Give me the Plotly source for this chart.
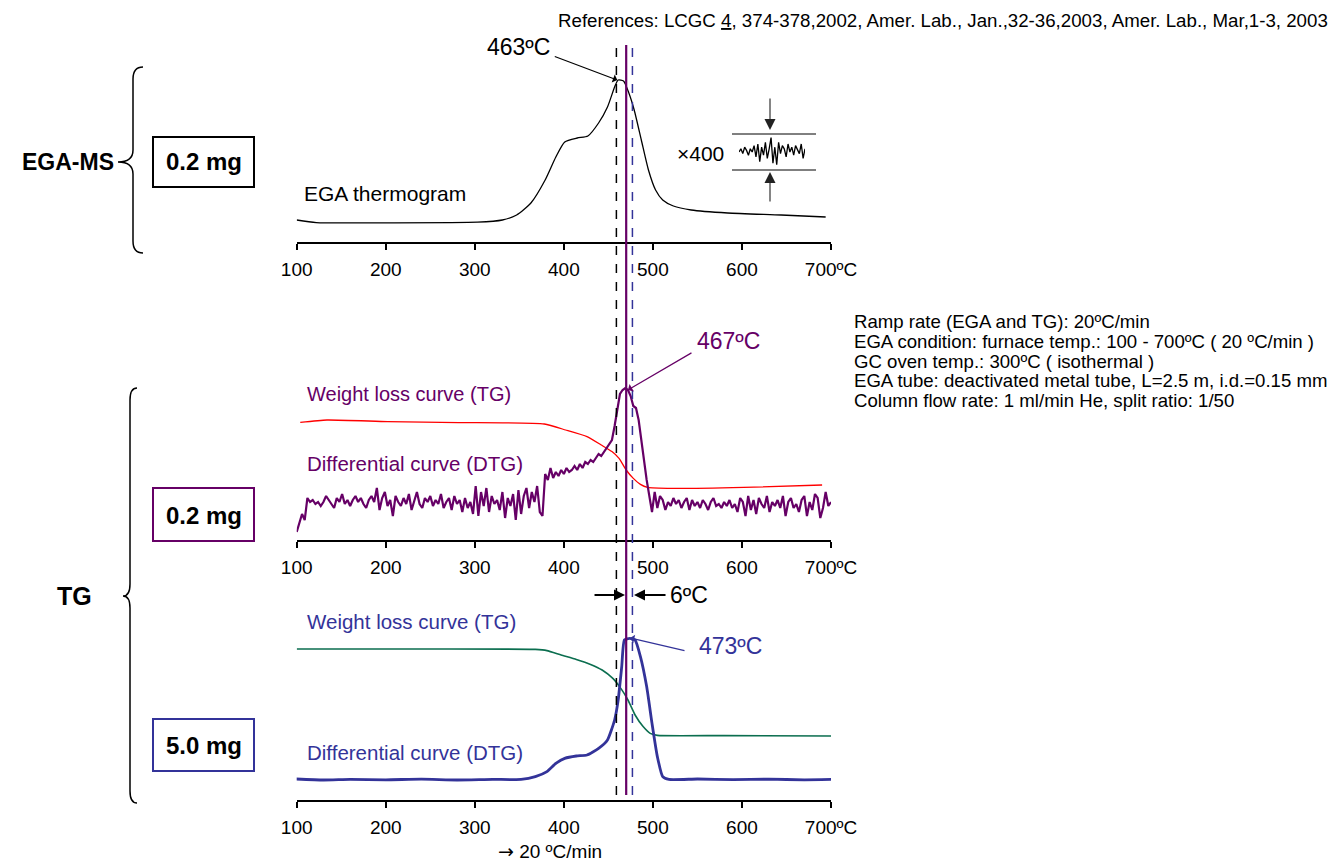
import numpy as np
import plotly.graph_objects as go

W, H = 1333, 862
FONT = "Arial, Liberation Sans, sans-serif"
PURPLE = "#660066"
BLUE = "#333399"
GREEN = "#0B6E4F"
RED = "#FF0000"

# ---------------- data ----------------
tick_vals = [100, 200, 300, 400, 500, 600, 700]
tick_text = ["100", "200", "300", "400", "500", "600", "700ºC"]

# EGA thermogram (arbitrary intensity units)
ega_t = [100, 122, 200, 303, 331, 347, 363, 379, 391, 401, 415, 427, 439, 449, 457, 461,
         467, 473, 479, 487, 495, 503, 511, 523, 543, 584, 644, 694]
ega_s = [11, 9.7, 9.6, 9.9, 11, 13.5, 19.5, 31, 42.5, 50, 52, 53, 59.5, 67.5, 77.5, 81,
         80.5, 74.5, 66, 51, 36, 26, 21, 18, 16, 14.5, 13.5, 12.5]

# x400 noise inset
inset_s = [0, 2, -1, 3, 1, -2, 2, 0, 4, -3, 5, -6, 3, -2, 6, -4, 2, 9, -7, 3, -8, 6, -1, 4,
           2, -3, 5, 0, 3, -2, 4, 1, -1, 5, -4, 2]

# TG 0.2 mg: weight loss curve
tg2_t = [104, 134, 202, 282, 378, 402, 426, 442, 454, 462, 470, 478, 486, 494, 522, 602, 690]
tg2_s = [58.8, 60, 59.2, 58.7, 58, 55, 51.7, 47.5, 44.2, 40.8, 35, 30.8, 27.8, 26.3, 25.8, 26.3, 27.5]

# TG 0.2 mg: DTG, sampled every 3 ºC from 100 to 700
dtg2_s = [
    4, 8, 13, 10, 21, 19, 20, 18, 19, 17,
    19, 22, 20, 18, 16, 21, 19, 23, 18, 20,
    17, 20, 22, 19, 21, 18, 16, 20, 22, 19,
    26, 15, 21, 24, 17, 20, 12, 22, 19, 17,
    21, 18, 23, 15, 20, 24, 18, 16, 21, 19,
    22, 17, 20, 18, 23, 16, 19, 21, 15, 22,
    18, 20, 14, 21, 16, 19, 13, 27, 12, 24,
    17, 26, 14, 22, 18, 20, 15, 24, 11, 21,
    17, 23, 10, 25, 13, 22, 26, 16, 24, 19,
    27, 14, 12, 33, 30, 36, 31, 34, 32, 35,
    33, 36, 34, 35, 37, 35, 38, 36, 39, 38,
    40, 39, 41, 43, 42, 44, 46, 48, 50, 57,
    66, 73, 75, 76, 75, 72, 67, 66, 60, 50,
    38, 30, 22, 14, 24, 16, 22, 20, 15, 19,
    17, 21, 18, 20, 16, 19, 21, 15, 20, 17,
    19, 16, 20, 18, 15, 19, 21, 17, 18, 16,
    19, 17, 20, 16, 18, 14, 21, 19, 12, 22,
    15, 20, 13, 21, 18, 16, 22, 14, 19, 17,
    20, 16, 22, 12, 19, 21, 16, 18, 14, 20,
    22, 12, 19, 15, 23, 21, 11, 16, 24, 17,
    19,
]
dtg2_t = list(range(100, 701, 3))

# TG 5.0 mg: weight loss curve
tg3_t = [100, 250, 368, 381, 397, 414, 430, 443, 455, 464, 472, 480, 489, 497, 505, 580, 700]
tg3_s = [75.5, 75.5, 75.3, 74.7, 72.5, 70.3, 67.8, 65, 60.8, 55.8, 50, 42.5, 36.7, 33.3, 32.3, 32.2, 32]

# TG 5.0 mg: DTG
dtg3_t = [99, 130, 160, 200, 240, 280, 320, 352, 368, 381, 391, 401, 414, 426, 439, 449, 457,
          461, 465, 468, 474, 480, 486, 493, 499, 505, 511, 518, 550, 590, 630, 670, 704]
dtg3_s = [10.5, 10, 10.3, 10.1, 10.4, 10, 10.3, 10.3, 11.7, 14.2, 18.3, 20.8, 22, 22.5, 25.8,
          30, 40, 50, 66.7, 80, 80.8, 80, 71.7, 56.7, 38.3, 21.7, 11.7, 10.3, 10.5, 10.2,
          10.4, 10.1, 10.3]

# marker temperatures (vertical lines)
vline_t = [459, 470, 477]

# ---------------- helpers ----------------
def px(x):
    return x / W

def py(y):
    return 1 - y / H

XDOM = [px(296.7), px(831)]

fig = go.Figure()

fig.add_trace(go.Scatter(x=ega_t, y=ega_s, mode="lines", xaxis="x", yaxis="y",
                         line=dict(color="black", width=1.3, shape="spline", smoothing=0.6)))
fig.add_trace(go.Scatter(x=tg2_t, y=tg2_s, mode="lines", xaxis="x2", yaxis="y2",
                         line=dict(color=RED, width=1.3, shape="spline", smoothing=0.5)))
fig.add_trace(go.Scatter(x=dtg2_t, y=dtg2_s, mode="lines", xaxis="x2", yaxis="y2",
                         line=dict(color=PURPLE, width=2.2)))
fig.add_trace(go.Scatter(x=tg3_t, y=tg3_s, mode="lines", xaxis="x3", yaxis="y3",
                         line=dict(color=GREEN, width=1.6, shape="spline", smoothing=0.5)))
fig.add_trace(go.Scatter(x=dtg3_t, y=dtg3_s, mode="lines", xaxis="x3", yaxis="y3",
                         line=dict(color=BLUE, width=2.8, shape="spline", smoothing=0.5)))
fig.add_trace(go.Scatter(x=list(range(len(inset_s))), y=inset_s, mode="lines", xaxis="x4", yaxis="y4",
                         line=dict(color="black", width=1.3)))

xcommon = dict(range=[100, 700], tickvals=tick_vals, ticktext=tick_text, showline=True,
               linecolor="black", linewidth=2, ticks="outside", ticklen=6, tickwidth=2,
               tickcolor="black", showgrid=False, zeroline=False, domain=XDOM, automargin=False,
               tickfont=dict(family=FONT, size=19, color="black"), ticklabelstandoff=3)

def ydom(axis_px):
    return [py(axis_px), py(axis_px - 200)]

fig.update_layout(
    width=W, height=H, autosize=False,
    margin=dict(l=0, r=0, t=0, b=0, pad=0, autoexpand=False),
    paper_bgcolor="white", plot_bgcolor="rgba(0,0,0,0)",
    showlegend=False,
    xaxis=dict(anchor="y", **xcommon),
    xaxis2=dict(anchor="y2", **xcommon),
    xaxis3=dict(anchor="y3", **xcommon),
    yaxis=dict(domain=ydom(242), range=[0, 100], visible=False),
    yaxis2=dict(domain=ydom(540), range=[0, 100], visible=False),
    yaxis3=dict(domain=ydom(800), range=[0, 100], visible=False),
    xaxis4=dict(domain=[px(739), px(805)], range=[0, len(inset_s) - 1], visible=False, anchor="y4"),
    yaxis4=dict(domain=[py(168), py(136)], range=[-10, 10], visible=False, anchor="x4"),
)

shapes = []
# vertical marker lines
vstyles = [dict(color="black", width=1.5, dash="dash"),
           dict(color=PURPLE, width=2.2, dash="solid"),
           dict(color=BLUE, width=1.5, dash="dash")]
for t, st in zip(vline_t, vstyles):
    shapes.append(dict(type="line", xref="x", yref="paper", x0=t, x1=t,
                       y0=py(795), y1=py(45), line=st, layer="above"))

# inset horizontal lines
for yy in (134, 170):
    shapes.append(dict(type="line", xref="paper", yref="paper", x0=px(732), x1=px(816),
                       y0=py(yy), y1=py(yy), line=dict(color="black", width=1)))

# sample boxes
boxes = [(137, 187, "black"), (488, 541, PURPLE), (719, 771, BLUE)]
for y0, y1, c in boxes:
    shapes.append(dict(type="rect", xref="paper", yref="paper", x0=px(153), x1=px(254),
                       y0=py(y1), y1=py(y0), line=dict(color=c, width=2), fillcolor="white"))

# braces
def brace(xe, xv, xt, yt, ym, yb, r=12):
    pts = [
        f"M{px(xe)},{py(yt)}",
        f"Q{px(xv)},{py(yt)} {px(xv)},{py(yt + r)}",
        f"L{px(xv)},{py(ym - r)}",
        f"Q{px(xv)},{py(ym)} {px(xt)},{py(ym)}",
        f"Q{px(xv)},{py(ym)} {px(xv)},{py(ym + r)}",
        f"L{px(xv)},{py(yb - r)}",
        f"Q{px(xv)},{py(yb)} {px(xe)},{py(yb)}",
    ]
    return " ".join(pts)

shapes.append(dict(type="path", xref="paper", yref="paper", path=brace(143, 133, 118, 67, 162, 253),
                   line=dict(color="black", width=1.5)))
shapes.append(dict(type="path", xref="paper", yref="paper", path=brace(137, 130, 123, 388, 596, 803),
                   line=dict(color="black", width=1.5)))
fig.update_layout(shapes=shapes)

ann = []

def text(x, y, s, size=20, color="black", bold=False, xanchor="center"):
    if bold:
        s = f"<b>{s}</b>"
    ann.append(dict(x=px(x), y=py(y), xref="paper", yref="paper", text=s, showarrow=False,
                    xanchor=xanchor, yanchor="middle", font=dict(family=FONT, size=size, color=color)))

text(1330, 20, "References: LCGC <u>4</u>, 374-378,2002, Amer. Lab., Jan.,32-36,2003, Amer. Lab., Mar,1-3, 2003",
     size=18.7, xanchor="right")
info = ["Ramp rate (EGA and TG): 20ºC/min",
        "EGA condition: furnace temp.: 100 - 700ºC ( 20 ºC/min )",
        "GC oven temp.: 300ºC ( isothermal )",
        "EGA tube: deactivated metal tube, L=2.5 m, i.d.=0.15 mm",
        "Column flow rate: 1 ml/min He, split ratio: 1/50"]
for i, s in enumerate(info):
    text(852, 321 + 20 * i, s, size=18.6, xanchor="left")

text(68, 162, "EGA-MS", size=23, bold=True)
text(74, 596, "TG", size=25, bold=True)
text(203.5, 162, "0.2 mg", size=24, bold=True)
text(203.5, 515, "0.2 mg", size=24, bold=True)
text(203.5, 745, "5.0 mg", size=24, bold=True)

text(302, 194, "EGA thermogram", size=21, xanchor="left")
text(518, 47, "463ºC", size=23)
text(700, 153, "×400", size=21)
text(305, 394, "Weight loss curve (TG)", size=20, color=PURPLE, xanchor="left")
text(305, 463, "Differential curve (DTG)", size=20.5, color=PURPLE, xanchor="left")
text(728, 341, "467ºC", size=23, color=PURPLE)
text(689, 595, "6ºC", size=23)
text(305, 621, "Weight loss curve (TG)", size=20.5, color=BLUE, xanchor="left")
text(305, 752, "Differential curve (DTG)", size=20.5, color=BLUE, xanchor="left")
text(731, 646, "473ºC", size=23, color=BLUE)
text(550, 851, "<span style='font-family:DejaVu Sans'>→</span> 20 ºC/min", size=19)

def arrow(x, y, ax, ay, xref, yref, color="black", head=2, size=1.0, width=1.0):
    ann.append(dict(x=x, y=y, xref=xref, yref=yref, ax=ax, ay=ay, axref="pixel", ayref="pixel",
                    text="", showarrow=True, arrowhead=head, arrowsize=size, arrowwidth=width,
                    arrowcolor=color, standoff=0))

arrow(460, 81, -64, -24, "x", "y", head=1, size=1.2, width=1.2)
arrow(472, 75, 65, -38, "x2", "y2", color=PURPLE, head=1, size=1.2, width=1.2)
arrow(474.3, 81, 56, 13, "x3", "y3", color=BLUE, head=1, size=1.2, width=1.2)
arrow(468.7, py(595), -32, 0, "x", "paper", head=2, size=1.1, width=2)
arrow(478.8, py(595), 33, 0, "x", "paper", head=2, size=1.1, width=2)
arrow(px(770), py(130), 0, -33, "paper", "paper", color="#222222", head=2, size=2.0, width=1.1)
arrow(px(770), py(172), 0, 31, "paper", "paper", color="#222222", head=2, size=2.0, width=1.1)

fig.update_layout(annotations=ann)
fig.write_html("out.html", config={"responsive": False, "displayModeBar": False},
               post_script="document.body.style.margin='0';document.body.style.overflow='hidden';")
